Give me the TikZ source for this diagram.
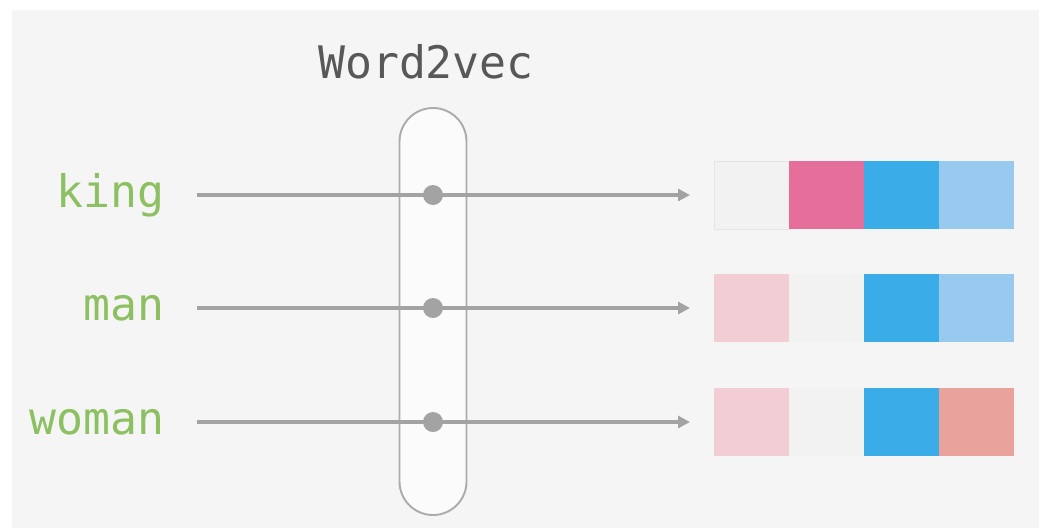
\documentclass[tikz,border=0pt]{standalone}
\usepackage{fontspec}
\newfontfamily\monofont{DejaVu Sans Mono}
\usetikzlibrary{arrows.meta, positioning}
\definecolor{latar}{RGB}{245,245,245}
\definecolor{garis}{RGB}{163,163,163}
\definecolor{hijau}{RGB}{140,192,96}
\definecolor{abutua}{RGB}{88,88,88}
\definecolor{abumuda}{RGB}{242,242,242}
\definecolor{merahmuda}{RGB}{242,205,212}
\definecolor{merahtua}{RGB}{230,110,155}
\definecolor{birutua}{RGB}{58,172,232}
\definecolor{birumuda}{RGB}{152,202,240}
\definecolor{salem}{RGB}{234,162,156}

\begin{document}
\begin{tikzpicture}[font=\monofont\fontsize{25.5}{30}\selectfont,
        kata/.style={text=hijau, anchor=east, inner sep=0pt},
        sel/.style={rectangle, minimum width=1.5cm, minimum height=1.36cm, inner sep=0pt, outer sep=0pt},
        titik/.style={circle, fill=garis, minimum size=0.4cm, inner sep=0pt},
        panah/.style={draw=garis, line width=1.9pt, -{Triangle[length=0.24cm, width=0.24cm]},
                    shorten <=0.64cm, shorten >=0.48cm}
    ]
        % latar
        \fill[white] (0,0) rectangle (20.78,-10.56);
        \fill[latar] (0.24,-0.2) rectangle (20.78,-10.56);

        % model
        \node[rectangle, rounded corners=0.67cm, draw=garis!90, line width=1.1pt, fill=white!60!latar,
              minimum width=1.34cm, minimum height=8.14cm] (model) at (8.66,-6.23) {};
        \node[text=abutua] (judul) at (8.52,-1.24) {Word2vec};

        % kata
        \node[kata] (king)  at (3.3,-3.9)  {king};
        \node[kata] (man)   at (3.3,-6.16) {man};
        \node[kata] (woman) at (3.3,-8.44) {woman};

        % vektor
        \node[sel, fill=abumuda, draw=black!10] (kingA) at (15.03,-3.9) {};
        \node[sel, fill=merahtua, right=0pt of kingA] (kingB) {};
        \node[sel, fill=birutua, right=0pt of kingB] (kingC) {};
        \node[sel, fill=birumuda, right=0pt of kingC] (kingD) {};

        \node[sel, fill=merahmuda] (manA) at (15.03,-6.16) {};
        \node[sel, fill=abumuda, right=0pt of manA] (manB) {};
        \node[sel, fill=birutua, right=0pt of manB] (manC) {};
        \node[sel, fill=birumuda, right=0pt of manC] (manD) {};

        \node[sel, fill=merahmuda] (womanA) at (15.03,-8.44) {};
        \node[sel, fill=abumuda, right=0pt of womanA] (womanB) {};
        \node[sel, fill=birutua, right=0pt of womanB] (womanC) {};
        \node[sel, fill=salem, right=0pt of womanC] (womanD) {};

        % panah
        \draw[panah] (king.east) -- (kingA.west);
        \draw[panah] (man.east) -- (manA.west);
        \draw[panah] (woman.east) -- (womanA.west);

        % titik
        \node[titik] (kingT)  at (8.66,-3.9)  {};
        \node[titik] (manT)   at (8.66,-6.16) {};
        \node[titik] (womanT) at (8.66,-8.44) {};
    \end{tikzpicture}
\end{document}
